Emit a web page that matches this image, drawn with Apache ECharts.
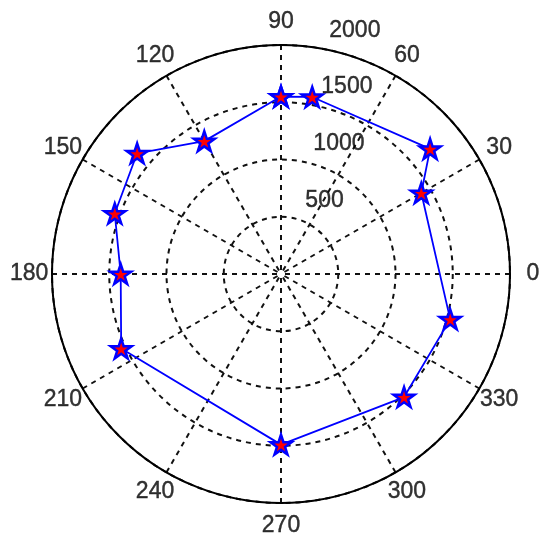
<!DOCTYPE html>
<html>
<head>
<meta charset="utf-8">
<script src="https://cdn.jsdelivr.net/npm/echarts@6/dist/echarts.min.js"></script>
<style>
html,body{margin:0;padding:0;background:#fff;}
#chart{width:546px;height:550px;}
</style>
</head>
<body>
<div id="chart"></div>
<script>
// Data (angle in degrees, radius value)
const angles = [90, 80, 40, 30, 345, 315, 270, 205, 180, 160, 140, 120];
const values = [1550, 1570, 1700, 1415, 1530, 1520, 1490, 1540, 1400, 1545, 1640, 1340];
const angleTicks = [0, 30, 60, 90, 120, 150, 180, 210, 240, 270, 300, 330];
const angleTickLabels = ['0', '30', '60', '90', '120', '150', '180', '210', '240', '270', '300', '330'];
const radiusTicks = [500, 1000, 1500, 2000];
const radiusTickLabels = ['500', '1000', '1500', '2000'];

const RMAX = 2000;
const FONT = 'Liberation Sans, Arial, sans-serif';
const STAR = 'path://M50 0 L61.23 34.55 L97.55 34.55 L68.17 55.9 L79.39 90.45 L50 69.1 L20.61 90.45 L31.83 55.9 L2.45 34.55 L38.77 34.55 Z';

const lineData = angles.map((a, i) => [values[i], a]);
lineData.push([values[0], angles[0]]);

const angleLabelData = angleTicks.map((a, i) => ({ value: [RMAX * 1.1, a], name: angleTickLabels[i] }));
const radiusLabelData = radiusTicks.map((r, i) => ({ value: [r + RMAX / 80, 82], name: radiusTickLabels[i] }));

const textStyle = { color: '#000', fontSize: 23, fontFamily: FONT, textBorderColor: '#000', textBorderWidth: 0.4 };

const chart = echarts.init(document.getElementById('chart'), null, { renderer: 'canvas' });
chart.setOption({
  backgroundColor: '#ffffff',
  animation: false,
  polar: { center: [281, 274], radius: 229 },
  angleAxis: {
    type: 'value', min: 0, max: 360, interval: 30,
    startAngle: 0, clockwise: false,
    axisLine: { show: true, lineStyle: { color: '#000', width: 2 } },
    axisTick: { show: false },
    axisLabel: { show: false },
    splitLine: { show: true, lineStyle: { color: '#111', width: 2, type: [5, 5] } }
  },
  radiusAxis: {
    type: 'value', min: 0, max: RMAX, interval: 500,
    axisLine: { show: false },
    axisTick: { show: false },
    axisLabel: { show: false },
    splitLine: { show: true, lineStyle: { color: '#111', width: 2, type: [5, 5] } }
  },
  series: [
    {
      type: 'line', coordinateSystem: 'polar', data: lineData,
      lineStyle: { color: '#0000ff', width: 1.8 },
      symbol: STAR, symbolSize: 21, symbolKeepAspect: true,
      itemStyle: { color: '#ff0000', borderColor: '#0000ff', borderWidth: 2.5 },
      z: 5
    },
    {
      type: 'scatter', coordinateSystem: 'polar', data: angleLabelData, clip: false,
      symbolSize: 1, itemStyle: { color: 'rgba(0,0,0,0)' },
      label: Object.assign({ show: true, position: 'inside', formatter: p => p.name,
        align: 'center', verticalAlign: 'middle' }, textStyle),
      silent: true
    },
    {
      type: 'scatter', coordinateSystem: 'polar', data: radiusLabelData, clip: false,
      symbolSize: 1, itemStyle: { color: 'rgba(0,0,0,0)' },
      label: Object.assign({ show: true, position: 'inside', offset: [16, -14], formatter: p => p.name,
        align: 'left', verticalAlign: 'middle' }, textStyle),
      silent: true, z: 6
    }
  ]
});
</script>
</body>
</html>
